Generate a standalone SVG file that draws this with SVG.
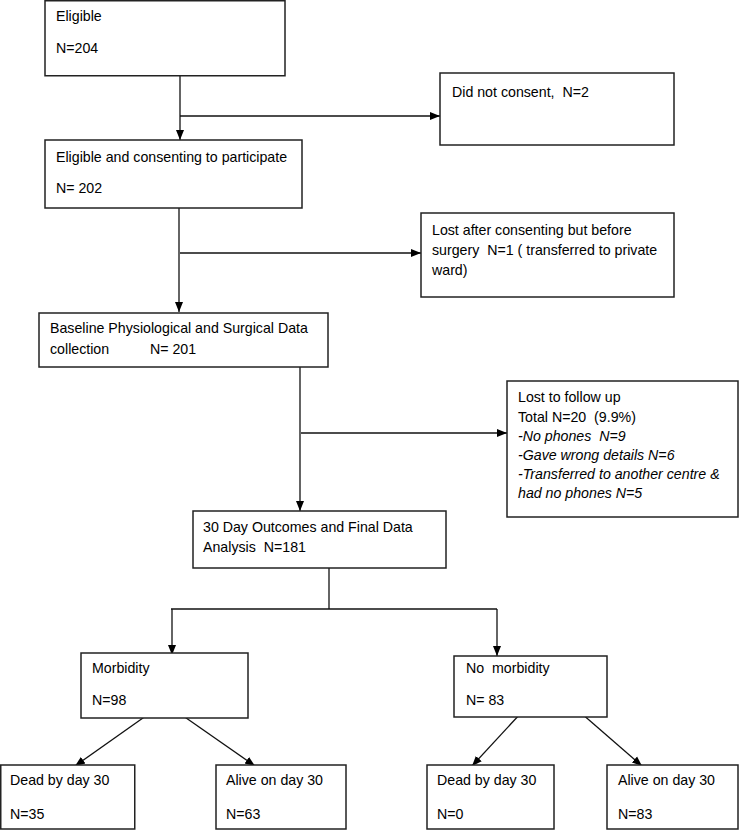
<svg xmlns="http://www.w3.org/2000/svg" width="739" height="831" viewBox="0 0 739 831">
<style>
.box{fill:#fff;stroke:#222;stroke-width:1.5}
.t{font-family:"Liberation Sans",Arial,sans-serif;font-size:14.2px;fill:#000;white-space:pre}
.i{font-style:italic}
.c{fill:none;stroke:#111;stroke-width:1.3}
</style>
<defs>
<marker id="ah" markerUnits="userSpaceOnUse" markerWidth="10" markerHeight="10" viewBox="0 0 10 10" refX="10" refY="5" orient="auto">
<path d="M0,1 L10,5 L0,9 Z" fill="#000"/>
</marker>
</defs>
<rect width="739" height="831" fill="#fff"/>
<g id="connectors">
<path class="c" d="M180 76 V140" marker-end="url(#ah)"/>
<path class="c" d="M180 116 H440" marker-end="url(#ah)"/>
<path class="c" d="M179 207 V312" marker-end="url(#ah)"/>
<path class="c" d="M180 253 H421" marker-end="url(#ah)"/>
<path class="c" d="M300 366 V511" marker-end="url(#ah)"/>
<path class="c" d="M301 433 H507" marker-end="url(#ah)"/>
<path class="c" d="M329 562 V609"/>
<path class="c" d="M171 609 H497"/>
<path class="c" d="M172 609 V655" marker-end="url(#ah)"/>
<path class="c" d="M497 609 V656" marker-end="url(#ah)"/>
<path class="c" d="M150 713 L75 766" marker-end="url(#ah)"/>
<path class="c" d="M179 713 L255 766" marker-end="url(#ah)"/>
<path class="c" d="M521 713 L472 766" marker-end="url(#ah)"/>
<path class="c" d="M581 713 L642 766" marker-end="url(#ah)"/>
</g>
<g id="eligible">
<rect class="box" x="45" y="0.75" width="240" height="75"/>
<text class="t" x="56" y="21">Eligible</text>
<text class="t" x="56" y="53">N=204</text>
</g>
<g id="did-not-consent">
<rect class="box" x="440" y="73" width="234" height="72"/>
<text class="t" x="452" y="97" xml:space="preserve">Did not consent,  N=2</text>
</g>
<g id="consenting">
<rect class="box" x="45" y="140" width="257" height="68"/>
<text class="t" x="56" y="162">Eligible and consenting to participate</text>
<text class="t" x="56" y="193">N= 202</text>
</g>
<g id="lost-before-surgery">
<rect class="box" x="421" y="213" width="253" height="84"/>
<text class="t" x="432" y="235">Lost after consenting but before</text>
<text class="t" x="432" y="255" xml:space="preserve">surgery  N=1 ( transferred to private</text>
<text class="t" x="432" y="275">ward)</text>
</g>
<g id="baseline">
<rect class="box" x="39" y="313" width="289" height="54"/>
<text class="t" x="50" y="333">Baseline Physiological and Surgical Data</text>
<text class="t" x="50" y="354">collection</text>
<text class="t" x="150" y="354">N= 201</text>
</g>
<g id="lost-follow-up">
<rect class="box" x="507" y="381" width="231" height="136"/>
<text class="t" x="518" y="402">Lost to follow up</text>
<text class="t" x="518" y="422" xml:space="preserve">Total N=20  (9.9%)</text>
<text class="t i" x="518" y="441" xml:space="preserve">-No phones  N=9</text>
<text class="t i" x="518" y="460">-Gave wrong details N=6</text>
<text class="t i" x="518" y="479">-Transferred to another centre &amp;</text>
<text class="t i" x="518" y="498">had no phones N=5</text>
</g>
<g id="outcomes">
<rect class="box" x="193" y="511" width="253" height="57"/>
<text class="t" x="203" y="532">30 Day Outcomes and Final Data</text>
<text class="t" x="203" y="552" xml:space="preserve">Analysis  N=181</text>
</g>
<g id="morbidity">
<rect class="box" x="81" y="653" width="167" height="65"/>
<text class="t" x="92" y="673">Morbidity</text>
<text class="t" x="92" y="705">N=98</text>
</g>
<g id="no-morbidity">
<rect class="box" x="454" y="656" width="153" height="61"/>
<text class="t" x="466" y="673" xml:space="preserve">No  morbidity</text>
<text class="t" x="466" y="705">N= 83</text>
</g>
<g id="dead-morbidity">
<rect class="box" x="0.75" y="765" width="134" height="64"/>
<text class="t" x="10" y="785">Dead by day 30</text>
<text class="t" x="10" y="819">N=35</text>
</g>
<g id="alive-morbidity">
<rect class="box" x="216" y="765" width="130" height="64"/>
<text class="t" x="226" y="785">Alive on day 30</text>
<text class="t" x="226" y="819">N=63</text>
</g>
<g id="dead-no-morbidity">
<rect class="box" x="427" y="765" width="127" height="64"/>
<text class="t" x="437" y="785">Dead by day 30</text>
<text class="t" x="437" y="819">N=0</text>
</g>
<g id="alive-no-morbidity">
<rect class="box" x="607" y="765" width="131" height="64"/>
<text class="t" x="618" y="785">Alive on day 30</text>
<text class="t" x="618" y="819">N=83</text>
</g>
</svg>
